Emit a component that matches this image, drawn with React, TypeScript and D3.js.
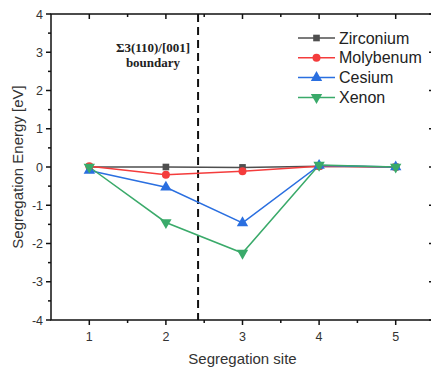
import React, { useEffect, useRef } from 'react'
import * as d3 from 'd3'

const sites = [1, 2, 3, 4, 5]
const zirconium = [0, 0, -0.01, 0.02, 0]
const molybdenum = [0.02, -0.2, -0.11, 0.02, 0]
const cesium = [-0.09, -0.53, -1.46, 0.04, 0]
const xenon = [0, -1.45, -2.25, 0.05, 0]
const seriesNames = ['Zirconium', 'Molybenum', 'Cesium', 'Xenon']
const seriesColors = ['#4f4f4f', '#f43c3c', '#2a6fe0', '#3aaa6a']
const seriesMarkers = ['square', 'circle', 'up', 'down']
const yTicks = [-4, -3, -2, -1, 0, 1, 2, 3, 4]
const boundarySite = 2.42
const boundaryLabel = ['Σ3(110)/[001]', 'boundary']

const App = () => {
  const ref = useRef<SVGSVGElement>(null)

  useEffect(() => {
    const width = 431
    const height = 372
    const marginLeft = 51
    const marginTop = 14
    const plotRight = 434
    const plotBottom = 320
    const font = '"Liberation Sans", Arial, sans-serif'
    const textColor = '#333'

    const svg = d3.select(ref.current)
    svg.selectAll('*').remove()

    const x = d3.scaleLinear().domain([0.5, 5.5]).range([marginLeft, plotRight])
    const y = d3.scaleLinear().domain([-4, 4]).range([plotBottom, marginTop])

    const values = [zirconium, molybdenum, cesium, xenon]

    const markerPath = (kind: string) => {
      if (kind === 'square') return d3.symbol(d3.symbolSquare, 44)()
      if (kind === 'circle') return d3.symbol(d3.symbolCircle, 50)()
      return d3.symbol(d3.symbolTriangle, 56)()
    }

    // boundary dashed line
    svg
      .append('line')
      .attr('x1', x(boundarySite))
      .attr('x2', x(boundarySite))
      .attr('y1', marginTop)
      .attr('y2', plotBottom)
      .attr('stroke', '#111')
      .attr('stroke-width', 2)
      .attr('stroke-dasharray', '8,5')

    svg
      .append('g')
      .selectAll('text')
      .data(boundaryLabel)
      .join('text')
      .attr('x', 153)
      .attr('y', (d, i) => 52 + i * 15)
      .attr('text-anchor', 'middle')
      .attr('font-family', '"Liberation Serif", "Times New Roman", serif')
      .attr('font-weight', 'bold')
      .attr('font-size', 13)
      .attr('fill', '#222')
      .text((d) => d)

    // series
    const line = d3
      .line<number>()
      .x((d, i) => x(sites[i]))
      .y((d) => y(d))

    values.forEach((vals, s) => {
      svg
        .append('path')
        .datum(vals)
        .attr('fill', 'none')
        .attr('stroke', seriesColors[s])
        .attr('stroke-width', 1.5)
        .attr('d', line)
    })

    values.forEach((vals, s) => {
      svg
        .append('g')
        .selectAll('path')
        .data(vals)
        .join('path')
        .attr('d', markerPath(seriesMarkers[s]))
        .attr('transform', (d, i) => `translate(${x(sites[i])},${y(d)})${seriesMarkers[s] === 'down' ? ' rotate(180)' : ''}`)
        .attr('fill', seriesColors[s])
    })

    // frame and ticks
    const frame = svg.append('g').attr('stroke', '#111').attr('stroke-width', 1.5)
    frame
      .append('rect')
      .attr('x', marginLeft)
      .attr('y', marginTop)
      .attr('width', plotRight - marginLeft)
      .attr('height', plotBottom - marginTop)
      .attr('fill', 'none')

    const xMinor = d3.range(1.5, 5.5, 1)
    const yMinor = d3.range(-3.5, 4, 1)

    sites.forEach((s) => {
      frame.append('line').attr('x1', x(s)).attr('x2', x(s)).attr('y1', plotBottom).attr('y2', plotBottom + 5)
      frame.append('line').attr('x1', x(s)).attr('x2', x(s)).attr('y1', marginTop).attr('y2', marginTop + 5)
    })
    xMinor.forEach((s) => {
      frame.append('line').attr('x1', x(s)).attr('x2', x(s)).attr('y1', plotBottom).attr('y2', plotBottom + 3)
      frame.append('line').attr('x1', x(s)).attr('x2', x(s)).attr('y1', marginTop).attr('y2', marginTop + 3)
    })
    yTicks.forEach((t) => {
      frame.append('line').attr('x1', marginLeft - 5).attr('x2', marginLeft).attr('y1', y(t)).attr('y2', y(t))
      frame.append('line').attr('x1', plotRight - 5).attr('x2', plotRight).attr('y1', y(t)).attr('y2', y(t))
    })
    yMinor.forEach((t) => {
      frame.append('line').attr('x1', marginLeft - 3).attr('x2', marginLeft).attr('y1', y(t)).attr('y2', y(t))
      frame.append('line').attr('x1', plotRight - 3).attr('x2', plotRight).attr('y1', y(t)).attr('y2', y(t))
    })

    // tick labels
    svg
      .append('g')
      .selectAll('text')
      .data(yTicks)
      .join('text')
      .attr('x', marginLeft - 8)
      .attr('y', (d) => y(d) + 4.5)
      .attr('text-anchor', 'end')
      .attr('font-family', font)
      .attr('font-size', 12.5)
      .attr('fill', textColor)
      .text((d) => d)

    svg
      .append('g')
      .selectAll('text')
      .data(sites)
      .join('text')
      .attr('x', (d) => x(d))
      .attr('y', plotBottom + 21)
      .attr('text-anchor', 'middle')
      .attr('font-family', font)
      .attr('font-size', 12.5)
      .attr('fill', textColor)
      .text((d) => d)

    // axis titles
    svg
      .append('text')
      .attr('x', (marginLeft + plotRight) / 2)
      .attr('y', 364)
      .attr('text-anchor', 'middle')
      .attr('font-family', font)
      .attr('font-size', 15)
      .attr('fill', textColor)
      .text('Segregation site')

    svg
      .append('text')
      .attr('transform', `translate(23,${(marginTop + plotBottom) / 2}) rotate(-90)`)
      .attr('text-anchor', 'middle')
      .attr('font-family', font)
      .attr('font-size', 15)
      .attr('fill', textColor)
      .text('Segregation Energy [eV]')

    // legend
    const legend = svg
      .append('g')
      .selectAll('g')
      .data(seriesNames)
      .join('g')
      .attr('transform', (d, i) => `translate(298,${38 + i * 19.8})`)

    legend
      .append('line')
      .attr('x1', 0)
      .attr('x2', 37)
      .attr('stroke', (d, i) => seriesColors[i])
      .attr('stroke-width', 1.5)

    legend
      .append('path')
      .attr('d', (d, i) => markerPath(seriesMarkers[i]))
      .attr('transform', (d, i) => `translate(18.5,0)${seriesMarkers[i] === 'down' ? ' rotate(180)' : ''}`)
      .attr('fill', (d, i) => seriesColors[i])

    legend
      .append('text')
      .attr('x', 41)
      .attr('y', 5.5)
      .attr('font-family', font)
      .attr('font-size', 16)
      .attr('fill', '#222')
      .text((d) => d)

    svg.attr('width', width).attr('height', height)
  }, [])

  return (
    <svg
      ref={ref}
      width={431}
      height={372}
      style={{ position: 'absolute', left: 0, top: 0, background: '#fff', display: 'block' }}
    />
  )
}

export default App
